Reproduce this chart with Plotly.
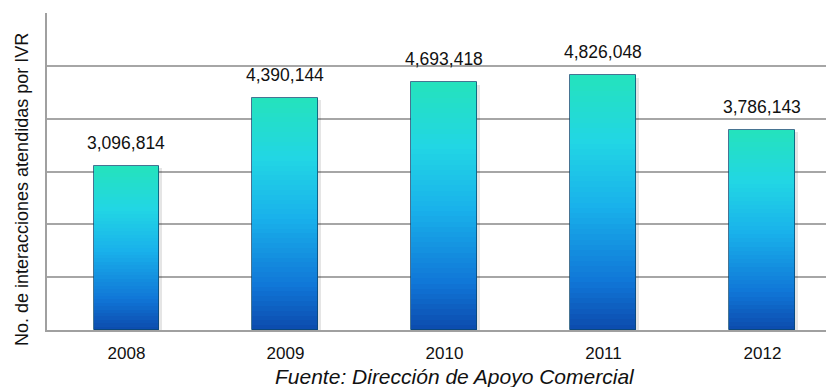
import plotly.graph_objects as go

years = ["2008", "2009", "2010", "2011", "2012"]
values = [3096814, 4390144, 4693418, 4826048, 3786143]
value_labels = ["3,096,814", "4,390,144", "4,693,418", "4,826,048", "3,786,143"]
y_title = "No. de interacciones atendidas por IVR"
source = "Fuente: Dirección de Apoyo Comercial"

FONT = "Liberation Sans, Arial, sans-serif"

# gradient stops: (fraction of bar height, rgb)
stops = [(0.0, (12, 72, 170)), (0.2, (16, 118, 215)), (0.5, (25, 178, 235)),
         (0.75, (34, 214, 228)), (1.0, (36, 226, 190))]

def col(f):
    for (f0, c0), (f1, c1) in zip(stops[:-1], stops[1:]):
        if f0 <= f <= f1:
            t = (f - f0) / (f1 - f0)
            return "rgb(%d,%d,%d)" % tuple(round(a + (b - a) * t) for a, b in zip(c0, c1))
    return "rgb(%d,%d,%d)" % stops[-1][1]

W = 0.415
fig = go.Figure()
# soft shadow
fig.add_trace(go.Bar(x=list(range(5)), y=values, width=W, offset=-W / 2 + 0.018,
                     marker=dict(color="rgba(0,0,0,0.10)", line=dict(width=0)),
                     base=[-v * 0.01 for v in values], hoverinfo="skip", showlegend=False))
N = 48
for k in range(N):
    f = 1 - k / N
    fig.add_trace(go.Bar(x=list(range(5)), y=[v * f for v in values], width=W,
                         marker=dict(color=col(f), line=dict(width=0)),
                         hoverinfo="skip", showlegend=False))
# outline
fig.add_trace(go.Bar(x=list(range(5)), y=values, width=W,
                     marker=dict(color="rgba(0,0,0,0)", line=dict(color="rgba(10,70,110,0.75)", width=1)),
                     hoverinfo="skip", showlegend=False))

for i, (v, t) in enumerate(zip(values, value_labels)):
    fig.add_annotation(x=i, y=v, text=t, showarrow=False, yanchor="bottom", yshift=11,
                       font=dict(family=FONT, size=17.5, color="#111"))

fig.add_annotation(xref="paper", yref="paper", x=-25 / 787, y=(330 - 190) / 317, text=y_title,
                   textangle=-90, showarrow=False, xanchor="center", yanchor="middle",
                   font=dict(family=FONT, size=18, color="#111"))
fig.add_annotation(xref="paper", yref="paper", x=(455 - 47) / 787, y=-46 / 317,
                   text="<i>" + source + "</i>", showarrow=False, xanchor="center", yanchor="middle",
                   font=dict(family=FONT, size=21, color="#111"))

fig.update_layout(
    width=826, height=379, barmode="overlay", bargap=0,
    margin=dict(l=39, r=0, t=5, b=57),
    plot_bgcolor="white", paper_bgcolor="white",
    xaxis=dict(range=[-0.5, 4.45], tickmode="array", tickvals=list(range(5)), ticktext=years,
               showgrid=False, showline=True, linecolor="#a0a0a0", linewidth=2,
               ticks="outside", ticklen=7, tickcolor="rgba(0,0,0,0)",
               tickfont=dict(family=FONT, size=17, color="#111"), zeroline=False),
    yaxis=dict(range=[0, 6000000], dtick=1000000, showgrid=True, gridcolor="#a6a6a6", gridwidth=1.5,
               showticklabels=False, showline=True, linecolor="#a0a0a0", linewidth=1.5,
               zeroline=False),
)
fig.write_html("out.html")
